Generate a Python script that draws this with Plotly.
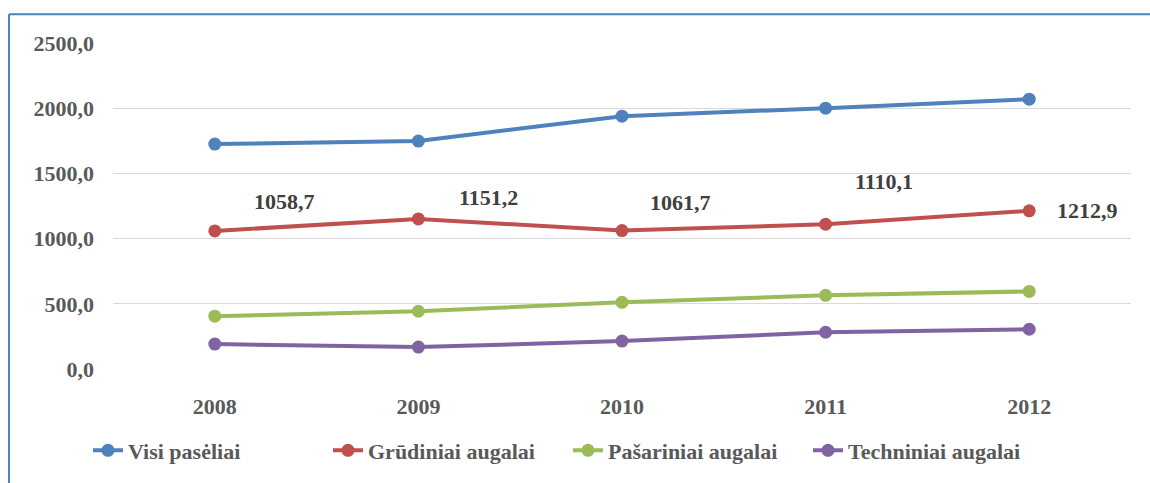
import plotly.graph_objects as go

years = ["2008", "2009", "2010", "2011", "2012"]
visi = [1725.0, 1748.0, 1939.0, 2000.0, 2069.0]
grudiniai = [1058.7, 1151.2, 1061.7, 1110.1, 1212.9]
pasariniai = [405.0, 443.0, 511.0, 565.0, 595.0]
techniniai = [191.0, 168.0, 214.0, 282.0, 305.0]
grudiniai_labels = ["1058,7", "1151,2", "1061,7", "1110,1", "1212,9"]

series = [
    ("Visi pasėliai", visi, "#4F81BD"),
    ("Grūdiniai augalai", grudiniai, "#C0504D"),
    ("Pašariniai augalai", pasariniai, "#9BBB59"),
    ("Techniniai augalai", techniniai, "#8064A2"),
]

FONT = "Liberation Serif"
GRAY = "#595959"
FS = 21

fig = go.Figure()
for name, vals, col in series:
    fig.add_trace(go.Scatter(
        x=years, y=vals, name=name, mode="lines+markers",
        line=dict(color=col, width=4),
        marker=dict(color=col, size=13),
    ))

# label offsets (px) for the Grūdiniai labels
shifts = [(70, 29), (70, 21), (58, 28), (58, 43), (58, 0)]
annots = []
for i, (v, lab, (dx, dy)) in enumerate(zip(grudiniai, grudiniai_labels, shifts)):
    annots.append(dict(xref="x", yref="y", x=i, y=v, text="<b>" + lab + "</b>",
                       showarrow=False, xshift=dx, yshift=dy,
                       font=dict(family=FONT, size=22, color="#404040")))

# outer border (cropped at right & bottom)
bx = (9 - 113) / 1018
by = (371 - 14) / 328
shapes = [
    dict(type="line", xref="paper", yref="paper", x0=bx, x1=1.2, y0=by, y1=by,
         line=dict(color="#4F81BD", width=2)),
    dict(type="line", xref="paper", yref="paper", x0=bx, x1=bx, y0=by, y1=-0.5,
         line=dict(color="#4F81BD", width=2)),
]

fig.update_layout(
    width=1150, height=483,
    margin=dict(l=113, r=19, t=43, b=112),
    paper_bgcolor="white", plot_bgcolor="white",
    separators=", ",
    font=dict(family=FONT, size=FS, color=GRAY, weight="bold"),
    showlegend=True,
    annotations=annots,
    shapes=shapes,
    legend=dict(orientation="h", x=(88 - 113) / 1018, xanchor="left", y=-0.25, yanchor="middle",
                font=dict(family=FONT, size=22, color=GRAY, weight="bold"),
                entrywidth=195, entrywidthmode="pixels", tracegroupgap=0),
    xaxis=dict(type="category", range=[-0.5, 4.5], showgrid=False, showline=False,
               zeroline=False, ticks="", ticklabelstandoff=22,
               tickfont=dict(family=FONT, size=22, color=GRAY, weight="bold")),
    yaxis=dict(range=[0, 2500], dtick=500, tickformat=".1f", showgrid=True,
               gridcolor="#D9D9D9", gridwidth=1, zeroline=False, showline=False,
               ticks="", ticklabelstandoff=18,
               tickfont=dict(family=FONT, size=22, color=GRAY, weight="bold")),
)

fig.write_html("out.html", config={"displayModeBar": False},
               post_script="document.body.style.margin='0';")
